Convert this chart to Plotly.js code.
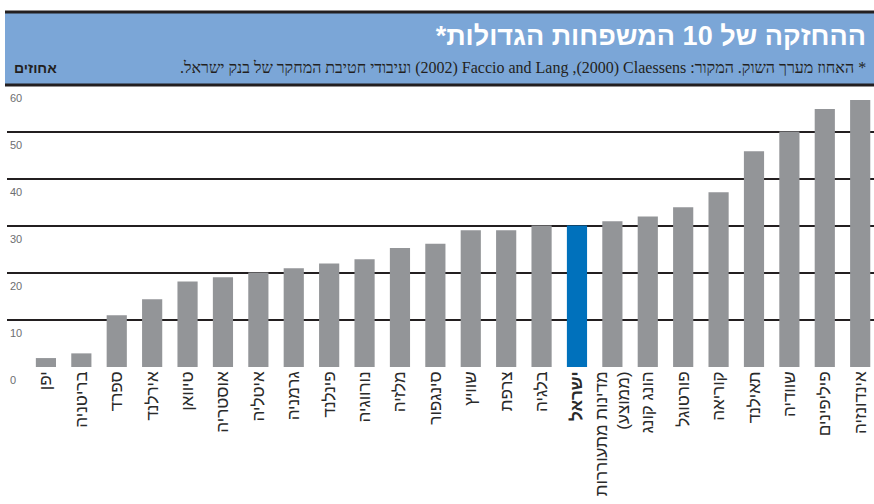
<!DOCTYPE html>
<html><head><meta charset="utf-8">
<script src="https://cdn.plot.ly/plotly-3.0.1.min.js"></script>
<style>html,body{margin:0;padding:0;background:#fff}</style>
</head><body><div id="chart" style="width:874px;height:504px"></div>
<script>
const countries = ['יפן','בריטניה','ספרד','אירלנד','טיוואן','אוסטריה','איטליה','גרמניה','פינלנד','נורווגיה','מלזיה','סינגפור','שוויץ','צרפת','בלגיה','ישראל','מדינות מתעוררות (ממוצע)','הונג קונג','פורטוגל','קוריאה','תאילנד','שוודיה','פיליפינים','אינדונזיה'];
const values = [1.9,2.9,11.0,14.4,18.2,19.1,20.1,21.0,22.0,22.9,25.3,26.2,29.1,29.1,30.1,30.1,31.0,32.0,34.0,37.2,45.9,50.1,54.9,56.8];
const tickLabels = ['יפן','בריטניה','ספרד','אירלנד','טיוואן','אוסטריה','איטליה','גרמניה','פינלנד','נורווגיה','מלזיה','סינגפור','שוויץ','צרפת','בלגיה','<b>ישראל</b>','מדינות מתעוררות<br>(ממוצע)','הונג קונג','פורטוגל','קוריאה','תאילנד','שוודיה','פיליפינים','אינדונזיה'];
const yTicks = [0,10,20,30,40,50,60];
const highlight = 'ישראל';
const titleText = 'ההחזקה של 10 המשפחות הגדולות*';
const noteText = '* האחוז מערך השוק. המקור: Claessens\u200F (2000),\u200F Faccio and Lang\u200F (2002) ועיבודי חטיבת המחקר של בנק ישראל.';
const unitText = 'אחוזים';

const W = 874, H = 504, L = 7, R = 0, T = 85, B = 137;
const pw = W - L - R, ph = H - T - B;
const px = x => (x - L) / pw;
const py = y => (H - B - y) / ph;
const rtl = s => '\u202B' + s + '\u202C';

const gray = '#939598', blue = '#0071BC', ink = '#231F20';

const trace = {
  type: 'bar', x: countries, y: values,
  marker: {color: countries.map(c => c === highlight ? blue : gray), line: {width: 0}},
  width: 0.57, hoverinfo: 'skip'
};

const layout = {
  width: W, height: H,
  margin: {l: L, r: R, t: T, b: B, pad: 0},
  paper_bgcolor: '#fff', plot_bgcolor: '#fff',
  showlegend: false,
  font: {family: 'Liberation Sans, DejaVu Sans, sans-serif', color: ink},
  title: {text: rtl(titleText), x: 866 / W, xanchor: 'right', xref: 'container',
          y: 1 - 36 / H, yanchor: 'middle', yref: 'container',
          font: {family: 'Liberation Sans, DejaVu Sans, sans-serif', size: 27, color: '#fff', weight: 'bold'}},
  xaxis: {
    type: 'category', range: [-1.1, 23.39], fixedrange: true,
    tickmode: 'array', tickvals: countries, ticktext: tickLabels.map(rtl),
    tickangle: -90, ticks: '', showgrid: false, zeroline: false, showline: false,
    tickfont: {size: 17, color: '#2a2a2a', family: 'Liberation Sans, DejaVu Sans, sans-serif'}
  },
  yaxis: {
    range: [0, 60], fixedrange: true,
    tickmode: 'array', tickvals: yTicks, ticktext: yTicks.map(String),
    ticks: '', showline: false, zeroline: false,
    showgrid: true, gridcolor: ink, gridwidth: 2,
    ticklabelposition: 'inside bottom', ticklabeloverflow: 'allow', ticklabelshift: 5,
    tickfont: {size: 11, color: '#6d6e71'}
  },
  shapes: [
    {type: 'rect', xref: 'paper', yref: 'paper', x0: px(5), x1: px(W), y0: py(85), y1: py(12),
     fillcolor: '#7BA6D7', line: {width: 0}, layer: 'below'},
    {type: 'line', xref: 'paper', yref: 'paper', x0: px(5), x1: px(W), y0: py(12), y1: py(12),
     line: {color: ink, width: 3}},
    {type: 'line', xref: 'paper', yref: 'paper', x0: px(5), x1: px(W), y0: py(85), y1: py(85),
     line: {color: ink, width: 3}}
  ],
  annotations: [
    {text: rtl(noteText), xref: 'paper', yref: 'paper', x: px(868), y: py(68),
     xanchor: 'right', yanchor: 'middle', showarrow: false,
     font: {family: 'Liberation Serif, DejaVu Serif, serif', size: 16, color: ink}},
    {text: rtl('<b>' + unitText + '</b>'), xref: 'paper', yref: 'paper', x: px(12), y: py(68),
     xanchor: 'left', yanchor: 'middle', showarrow: false,
     font: {family: 'Liberation Sans, DejaVu Sans, sans-serif', size: 14, color: ink}}
  ]
};

Plotly.newPlot('chart', [trace], layout, {displayModeBar: false, staticPlot: true});
</script>
</body></html>
